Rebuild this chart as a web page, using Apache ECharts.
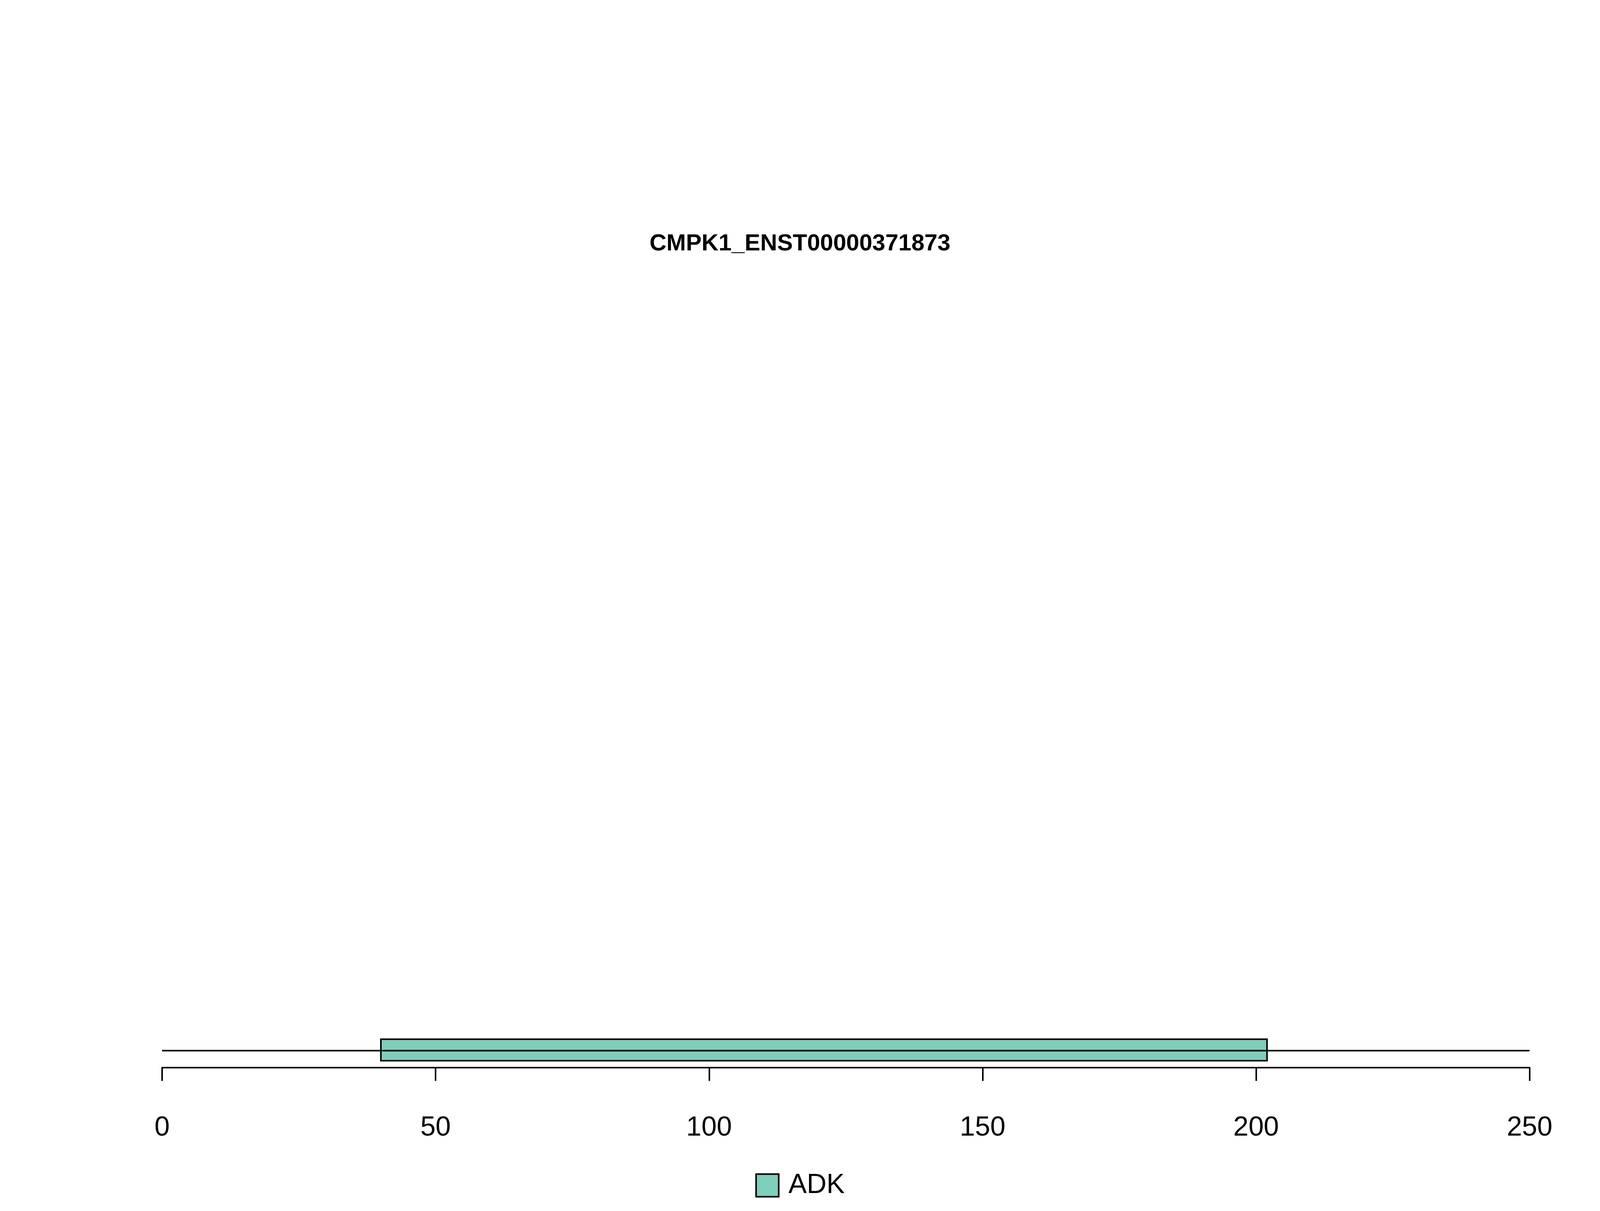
<!DOCTYPE html>
<html>
<head>
<meta charset="utf-8">
<script src="https://cdn.jsdelivr.net/npm/echarts@6/dist/echarts.min.js"></script>
<style>html,body{margin:0;padding:0;background:#fff;overflow:hidden}#c{width:100vw;height:100vh}</style>
</head>
<body>
<div id="c"></div>
<script>
var title = 'CMPK1_ENST00000371873';
var proteinLength = 250;
var domainNames = ['ADK'];
var domainStarts = [40];
var domainEnds = [202];
var domainColors = ['#7fcdbb'];
var xTicks = [0, 50, 100, 150, 200, 250];

var chart = echarts.init(document.getElementById('c'));
var domainData = domainNames.map(function (n, i) {
  return { name: n, value: [domainStarts[i], domainEnds[i]], itemStyle: { color: domainColors[i] } };
});
chart.setOption({
  animation: false,
  title: {
    text: title, left: 'center', top: '19%',
    textStyle: { fontFamily: 'Liberation Sans', fontWeight: 'bold', fontSize: 60, color: '#000' }
  },
  legend: {
    data: domainNames.map(function (n) { return { name: n, icon: 'rect' }; }),
    top: '96.6%', left: 'center', itemWidth: 58, itemHeight: 58,
    textStyle: { fontFamily: 'Liberation Sans', fontSize: 70, color: '#000', padding: [0, 0, 0, 20] },
    itemStyle: { borderColor: '#000', borderWidth: 4 }
  },
  grid: { left: '10.13%', right: '4.4%', top: '83.9%', bottom: '11.84%' },
  xAxis: {
    type: 'value', min: 0, max: proteinLength, interval: 50,
    splitLine: { show: false },
    axisLine: { lineStyle: { color: '#000', width: 4 } },
    axisTick: { length: 34, lineStyle: { color: '#000', width: 4 } },
    axisLabel: { margin: 120, fontFamily: 'Liberation Sans', fontSize: 70, color: '#000',
      formatter: function (v) { return xTicks.indexOf(v) >= 0 ? String(v) : ''; } }
  },
  yAxis: { type: 'value', min: 0, max: 1, show: false },
  series: [
    {
      type: 'line', data: [[0, 0.33], [proteinLength, 0.33]], symbol: 'none',
      lineStyle: { color: '#000', width: 4 }, silent: true
    },
    {
      type: 'custom', name: 'ADK', data: domainData,
      itemStyle: { color: domainColors[0] },
      renderItem: function (params, api) {
        var p1 = api.coord([api.value(0), 0.55]);
        var p2 = api.coord([api.value(1), 0.135]);
        return {
          type: 'rect',
          shape: { x: p1[0], y: p1[1], width: p2[0] - p1[0], height: p2[1] - p1[1] },
          style: { fill: domainColors[params.dataIndex], stroke: '#000', lineWidth: 4 }
        };
      }
    }
  ]
});
</script>
</body>
</html>
